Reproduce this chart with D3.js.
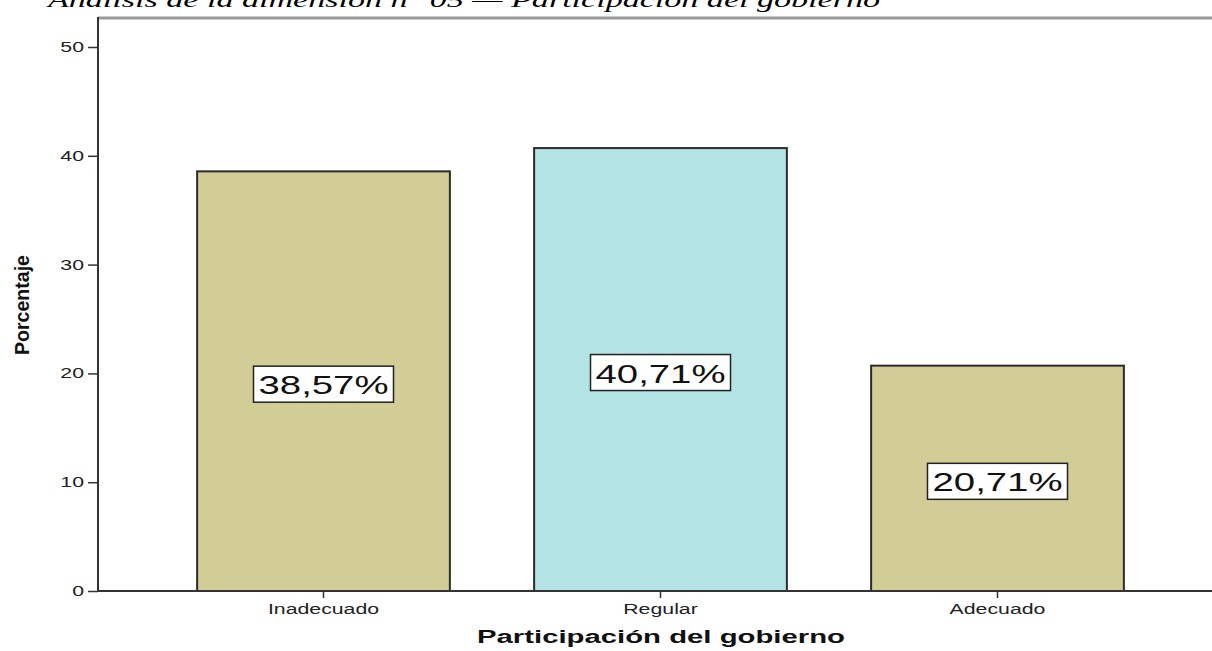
<!DOCTYPE html>
<html>
<head>
<meta charset="utf-8">
<script src="https://cdn.jsdelivr.net/npm/d3@7"></script>
<style>
  body { margin: 0; background: #fff; }
  svg { display: block; }
</style>
</head>
<body>
<svg id="chart"></svg>
<script>
// Data
const categories = ["Inadecuado", "Regular", "Adecuado"];
const values = [38.57, 40.71, 20.71];
const barColors = ["#d2cd97", "#b4e3e5", "#d2cd97"];
const yTicks = [0, 10, 20, 30, 40, 50];

// Dimensions
const width = 1212;
const height = 651;
const plotLeft = 98;
const plotBottom = 591;
const plotTop = 18;
const stretch = 1.52; // the source picture is widened horizontally

const svg = d3.select("#chart").attr("width", width).attr("height", height);

// Scales
const xScale = d3
  .scaleBand()
  .domain(categories)
  .range([155, 1166])
  .paddingInner(0.25)
  .paddingOuter(0.125);

const yScale = d3.scaleLinear().domain([0, 50]).range([plotBottom, 47]);

// Title (cut at top of the picture)
svg
  .append("text")
  .attr("x", 48)
  .attr("y", 7)
  .attr("font-family", "Liberation Serif")
  .attr("font-style", "italic")
  .attr("font-size", 22)
  .attr("textLength", 832)
  .attr("lengthAdjust", "spacingAndGlyphs")
  .text("Análisis de la dimensión n° 05 — Participación del gobierno");

// Top frame line
svg
  .append("line")
  .attr("x1", plotLeft)
  .attr("x2", width)
  .attr("y1", plotTop)
  .attr("y2", plotTop)
  .attr("stroke", "#9a9a9a")
  .attr("stroke-width", 3);

// Bars
svg
  .selectAll(".bar")
  .data(values)
  .enter()
  .append("rect")
  .attr("class", "bar")
  .attr("x", (d, i) => xScale(categories[i]))
  .attr("y", (d) => yScale(d))
  .attr("width", xScale.bandwidth())
  .attr("height", (d) => plotBottom - yScale(d))
  .attr("fill", (d, i) => barColors[i])
  .attr("stroke", "#2b2b2b")
  .attr("stroke-width", 2);

function widen(sel) {
  sel.each(function () {
    const len = this.getComputedTextLength();
    d3.select(this)
      .attr("textLength", len * stretch)
      .attr("lengthAdjust", "spacingAndGlyphs");
  });
}

// Y axis
const yAxis = d3.axisLeft(yScale).tickValues(yTicks).tickSize(10).tickPadding(4);
const yG = svg
  .append("g")
  .attr("transform", `translate(${plotLeft},0)`)
  .call(yAxis);
yG.select(".domain").remove();
yG.selectAll(".tick line").attr("stroke", "#333").attr("stroke-width", 1.5);
yG.selectAll(".tick text")
  .attr("font-family", "Liberation Sans")
  .attr("font-size", 14)
  .attr("fill", "#222")
  .call(widen);

svg
  .append("line")
  .attr("x1", plotLeft)
  .attr("x2", plotLeft)
  .attr("y1", plotTop - 1)
  .attr("y2", plotBottom + 1)
  .attr("stroke", "#333")
  .attr("stroke-width", 2);

// X axis
const xAxis = d3.axisBottom(xScale).tickSize(7).tickPadding(6);
const xG = svg
  .append("g")
  .attr("transform", `translate(0,${plotBottom})`)
  .call(xAxis);
xG.select(".domain").remove();
xG.selectAll(".tick line").attr("stroke", "#333").attr("stroke-width", 1.5);
xG.selectAll(".tick text")
  .attr("font-family", "Liberation Sans")
  .attr("font-size", 14)
  .attr("fill", "#222")
  .call(widen);

svg
  .append("line")
  .attr("x1", plotLeft - 1)
  .attr("x2", width)
  .attr("y1", plotBottom)
  .attr("y2", plotBottom)
  .attr("stroke", "#333")
  .attr("stroke-width", 2);

// Axis titles
svg
  .append("text")
  .attr("x", 661)
  .attr("y", 643)
  .attr("text-anchor", "middle")
  .attr("font-family", "Liberation Sans")
  .attr("font-weight", "bold")
  .attr("font-size", 18)
  .attr("textLength", 368)
  .attr("lengthAdjust", "spacingAndGlyphs")
  .attr("fill", "#111")
  .text("Participación del gobierno");

svg
  .append("text")
  .attr("transform", "translate(29,305) rotate(-90)")
  .attr("text-anchor", "middle")
  .attr("font-family", "Liberation Sans")
  .attr("font-weight", "bold")
  .attr("font-size", 21)
  .attr("textLength", 100)
  .attr("lengthAdjust", "spacingAndGlyphs")
  .attr("fill", "#111")
  .text("Porcentaje");

// Value labels
const fmt = (v) => v.toFixed(2).replace(".", ",") + "%";
const labels = svg
  .selectAll(".label")
  .data(values)
  .enter()
  .append("g")
  .attr("class", "label")
  .attr(
    "transform",
    (d, i) =>
      `translate(${xScale(categories[i]) + xScale.bandwidth() / 2},${yScale(d / 2) + 3})`
  );

labels
  .append("rect")
  .attr("x", -70)
  .attr("y", -18)
  .attr("width", 140)
  .attr("height", 36)
  .attr("fill", "#fff")
  .attr("stroke", "#222")
  .attr("stroke-width", 1.5);

labels
  .append("text")
  .attr("y", 10)
  .attr("text-anchor", "middle")
  .attr("font-family", "Liberation Sans")
  .attr("font-size", 25)
  .attr("fill", "#111")
  .attr("textLength", 130)
  .attr("lengthAdjust", "spacingAndGlyphs")
  .text((d) => fmt(d));
</script>
</body>
</html>
